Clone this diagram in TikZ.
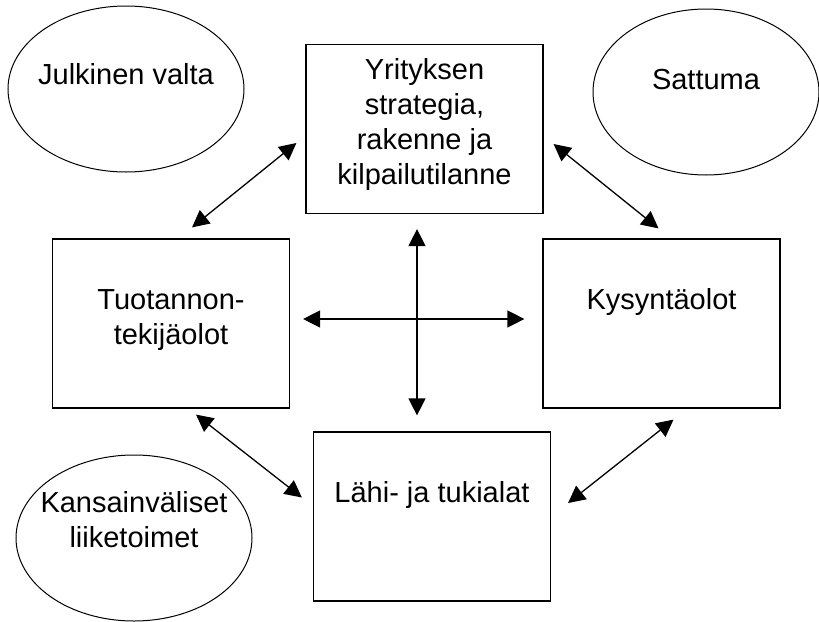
\documentclass[tikz,border=0pt]{standalone}
\usepackage{fontspec}
\setmainfont{Liberation Sans}
\usetikzlibrary{arrows.meta,shapes.geometric}

\begin{document}
\begin{tikzpicture}[
    x=1pt, y=-1pt,
    font=\fontsize{29}{35}\selectfont,
    every node/.style={align=center},
    box/.style={draw, line width=1.2pt, minimum width=237pt, minimum height=169pt,
                inner sep=0pt},
    blob/.style={draw, ellipse, line width=1pt, minimum width=236pt, minimum height=166pt,
                 inner sep=0pt, inner xsep=-20pt},
    arr/.style={{Triangle[length=17pt,width=17pt]}-{Triangle[length=17pt,width=17pt]}, line width=1.3pt},
]
\useasboundingbox (0,0) rectangle (819,621);

% Outer factors
\node[blob, text height=21pt, text depth=30pt] (julk) at (126,89) {Julkinen valta};
\node[blob, minimum width=226pt, text height=21pt, text depth=26pt] (satt) at (706,92) {Sattuma};
\node[blob, text height=56pt, text depth=37pt] (kans) at (134,538) {Kansainväliset\\liiketoimet};

% Diamond boxes
\node[box, text height=126pt, text depth=15pt] (strat) at (424.5,129) {Yrityksen\\strategia,\\rakenne ja\\kilpailutilanne};
\node[box, text height=56pt, text depth=14pt]  (tekij) at (171,323.5) {Tuotannon-\\tekijäolot};
\node[box, text height=21pt, text depth=49pt]  (kysy)  at (661.5,323.5) {Kysyntäolot};
\node[box, text height=21pt, text depth=49pt]  (lahi)  at (432,516.5) {Lähi- ja tukialat};

% Arrows
\draw[arr] ([xshift=21pt,yshift=11pt]tekij.north) -- ([xshift=-9pt,yshift=-14pt]strat.west);
\draw[arr] ([xshift=10pt,yshift=-15pt]strat.east) -- ([xshift=-3pt,yshift=10pt]kysy.north);
\draw[arr] ([xshift=25pt,yshift=-6pt]tekij.south) -- ([xshift=-11pt,yshift=19pt]lahi.west);
\draw[arr] ([xshift=17pt,yshift=13.5pt]lahi.east) -- ([xshift=12pt,yshift=-11pt]kysy.south);
\draw[arr] ([xshift=13pt,yshift=4.5pt]tekij.east) -- ([xshift=-18pt,yshift=4.5pt]kysy.west);
\draw[arr] ([xshift=-7.5pt,yshift=-15pt]strat.south) -- ([xshift=-15pt,yshift=16pt]lahi.north);

\end{tikzpicture}
\end{document}
